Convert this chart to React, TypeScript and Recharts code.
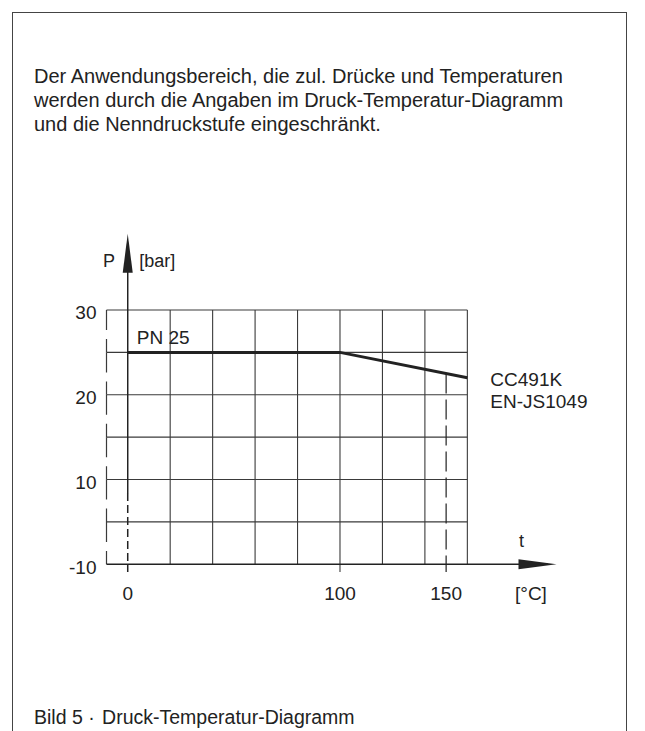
import React from 'react';
import { ComposedChart, Line, XAxis, YAxis, ReferenceLine, ReferenceDot } from 'recharts';

// Druck-Temperatur-Kurve: PN 25 bis 100 °C, dann Abfall bis 160 °C
const temperatures = [0, 100, 160];
const pressures = [25, 25, 22];

const xGridLines = [20, 40, 60, 80, 100, 120, 140];
const yGridLines = [5, 10, 15, 20, 25];
const xTicks = [0, 100, 150];
const xTickLabels = ['0', '100', '150'];
const yTicks = [0, 10, 20, 30];
const yTickLabels = ['-10', '10', '20', '30'];

const data = temperatures.map((t, i) => ({ t, p: pressures[i] }));

const FONT = '"Liberation Sans", Arial, sans-serif';
const INK = '#222';
const GRID = '#3a3a3a';

// grid bounds and axis ends (data units)
const X_LEFT = -10;
const X_RIGHT = 160;
const X_END = 202;
const Y_TOP = 30;
const Y_END = 39;
const BELOW = -0.9;

const YTick = (props: any) => {
    const { x, y, payload } = props;
    const i = yTicks.indexOf(payload.value);
    return (
        <text x={x} y={y + 9.5} textAnchor="end" fontFamily={FONT} fontSize={19} fill={INK}>
            {yTickLabels[i]}
        </text>
    );
};

const XTick = (props: any) => {
    const { x, y, payload } = props;
    const i = xTicks.indexOf(payload.value);
    return (
        <text x={x} y={y + 36} textAnchor="middle" fontFamily={FONT} fontSize={19} fill={INK}>
            {xTickLabels[i]}
        </text>
    );
};

const note = (lines: string[], dx: number, dy: number, anchor: string = 'start', size: number = 19) =>
    (p: any) => (
        <text x={p.cx + dx} y={p.cy + dy} textAnchor={anchor} fontFamily={FONT} fontSize={size} fill={INK}>
            {lines.map((l, i) => (
                <tspan key={i} x={p.cx + dx} dy={i === 0 ? 0 : 22.3}>{l}</tspan>
            ))}
        </text>
    );

const upArrow = (p: any) => (
    <polygon points={`${p.cx},${p.cy} ${p.cx - 5},${p.cy + 39} ${p.cx + 5},${p.cy + 39}`} fill={INK} />
);

const rightArrow = (p: any) => (
    <polygon points={`${p.cx},${p.cy} ${p.cx - 38},${p.cy - 5} ${p.cx - 38},${p.cy + 5}`} fill={INK} />
);

const PressureChart: React.FC = () => {
    const leftEdge: number[] = [0, ...yGridLines];
    return (
        <ComposedChart
            width={645}
            height={640}
            data={data}
            margin={{ top: 233.7, right: 88.5, bottom: 35.7, left: 66.5 }}
        >
            <XAxis
                dataKey="t"
                type="number"
                domain={[X_LEFT, X_END]}
                ticks={xTicks}
                axisLine={false}
                tickLine={false}
                tickSize={0}
                tickMargin={0}
                height={40}
                tick={<XTick />}
                interval={0}
            />
            <YAxis
                type="number"
                domain={[0, Y_END]}
                ticks={yTicks}
                axisLine={false}
                tickLine={false}
                tickSize={0}
                tickMargin={10}
                width={40}
                tick={<YTick />}
                interval={0}
            />

            {/* horizontal grid */}
            {[...yGridLines, Y_TOP].map((v) => (
                <ReferenceLine
                    key={`h${v}`}
                    segment={[{ x: X_LEFT, y: v }, { x: X_RIGHT, y: v }]}
                    stroke={GRID}
                    strokeWidth={1.1}
                    ifOverflow="visible"
                />
            ))}
            {/* vertical grid */}
            {xGridLines.map((v) => (
                <ReferenceLine
                    key={`v${v}`}
                    segment={[{ x: v, y: v === 100 ? BELOW : 0 }, { x: v, y: Y_TOP }]}
                    stroke={GRID}
                    strokeWidth={1.1}
                    ifOverflow="visible"
                />
            ))}
            <ReferenceLine
                segment={[{ x: X_RIGHT, y: 0 }, { x: X_RIGHT, y: Y_TOP }]}
                stroke={GRID}
                strokeWidth={1.1}
                ifOverflow="visible"
            />
            {/* dashed left edge, restarting at every grid line */}
            {leftEdge.map((v) => (
                <ReferenceLine
                    key={`l${v}`}
                    segment={[{ x: X_LEFT, y: v + 5 }, { x: X_LEFT, y: v }]}
                    stroke={GRID}
                    strokeWidth={1.2}
                    strokeDasharray="20 9"
                    ifOverflow="visible"
                />
            ))}
            {/* dashed limit at 150 °C */}
            <ReferenceLine
                segment={[{ x: 150, y: 22.5 }, { x: 150, y: BELOW }]}
                stroke={INK}
                strokeWidth={1.2}
                strokeDasharray="20 6"
                ifOverflow="visible"
            />

            {/* axes */}
            <ReferenceLine
                segment={[{ x: X_LEFT, y: 0 }, { x: X_END - 4, y: 0 }]}
                stroke={INK}
                strokeWidth={1.5}
                ifOverflow="visible"
            />
            <ReferenceLine
                segment={[{ x: 0, y: 8.4 }, { x: 0, y: Y_END - 4 }]}
                stroke={INK}
                strokeWidth={1.5}
                ifOverflow="visible"
            />
            <ReferenceLine
                segment={[{ x: 0, y: 8.4 }, { x: 0, y: BELOW }]}
                stroke={INK}
                strokeWidth={1.5}
                strokeDasharray="8 4"
                ifOverflow="visible"
            />

            <Line
                type="linear"
                dataKey="p"
                stroke={INK}
                strokeWidth={3}
                dot={false}
                activeDot={false}
                isAnimationActive={false}
            />

            <ReferenceDot x={0} y={Y_END} r={0} ifOverflow="visible" shape={upArrow} />
            <ReferenceDot x={X_END} y={0} r={0} ifOverflow="visible" shape={rightArrow} />

            <ReferenceDot x={0} y={Y_END} r={0} ifOverflow="visible" shape={note(['P'], -12.7, 33, 'end', 18)} />
            <ReferenceDot x={0} y={Y_END} r={0} ifOverflow="visible" shape={note(['[bar]'], 11.6, 33, 'start', 18)} />
            <ReferenceDot x={0} y={25} r={0} ifOverflow="visible" shape={note(['PN 25'], 9, -8)} />
            <ReferenceDot x={X_RIGHT} y={22} r={0} ifOverflow="visible" shape={note(['CC491K', 'EN-JS1049'], 23, 8.3)} />
            <ReferenceDot x={X_END} y={0} r={0} ifOverflow="visible" shape={note(['t'], -37.5, -17, 'start', 18)} />
            <ReferenceDot x={X_END} y={0} r={0} ifOverflow="visible" shape={note(['[°C]'], -41.5, 35.7)} />
        </ComposedChart>
    );
};

const App: React.FC = () => {
    return (
        <div style={{ position: 'absolute', left: 0, top: 0, width: 645, height: 731, background: '#fff', overflow: 'hidden' }}>
            <div
                style={{
                    position: 'absolute',
                    left: 12,
                    top: 12,
                    width: 615,
                    height: 740,
                    borderTop: '1.5px solid #444',
                    borderLeft: '1.5px solid #444',
                    borderRight: '1.5px solid #444',
                    boxSizing: 'border-box'
                }}
            />
            <div
                style={{
                    position: 'absolute',
                    left: 34,
                    top: 64,
                    fontFamily: FONT,
                    fontSize: 20,
                    lineHeight: '24px',
                    color: INK,
                    whiteSpace: 'nowrap'
                }}
            >
                Der Anwendungsbereich, die zul. Drücke und Temperaturen<br />
                werden durch die Angaben im Druck-Temperatur-Diagramm<br />
                und die Nenndruckstufe eingeschränkt.
            </div>
            <div style={{ position: 'absolute', left: 0, top: 0 }}>
                <PressureChart />
            </div>
            <div
                style={{
                    position: 'absolute',
                    left: 34,
                    top: 705,
                    fontFamily: FONT,
                    fontSize: 19.5,
                    lineHeight: '24px',
                    color: INK,
                    whiteSpace: 'nowrap'
                }}
            >
                Bild 5 · <span style={{ marginLeft: 2 }}>Druck-Temperatur-Diagramm</span>
            </div>
        </div>
    );
};

export default App;
